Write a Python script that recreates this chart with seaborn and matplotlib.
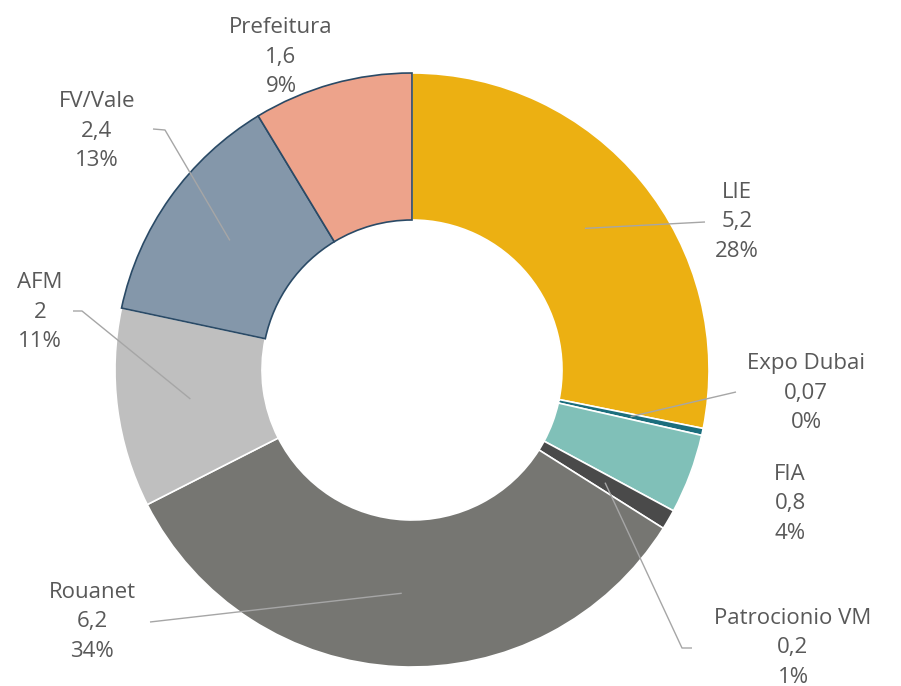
import numpy as np
import matplotlib
matplotlib.use("Agg")
import matplotlib.pyplot as plt
import seaborn as sns

# ---- data ----
categories = ["LIE", "Expo Dubai", "FIA", "Patrocionio VM", "Rouanet", "AFM", "FV/Vale", "Prefeitura"]
values = [5.2, 0.07, 0.8, 0.2, 6.2, 2, 2.4, 1.6]

# ---- style ----
colors = ["#ECB012", "#1B6E7D", "#80C0B8", "#4A4A4A", "#767672", "#BFBFBF", "#8497AA", "#EDA38B"]
edgecolors = ["white", "white", "white", "white", "white", "white", "#2A4A66", "#2A4A66"]

sns.set_theme(style="white")
plt.rcParams["font.family"] = ["Open Sans", "DejaVu Sans"]

W, H = 901, 686
fig = plt.figure(figsize=(W / 100, H / 100), dpi=100)
ax = fig.add_axes([0, 0, 1, 1])

def py(y):
    return H - y

cx, cy = 412, 370
R_out, R_in = 297, 150

wedges, _ = ax.pie(values, colors=colors, startangle=90, counterclock=False,
                   center=(cx, py(cy)), radius=R_out,
                   wedgeprops=dict(width=R_out - R_in, linewidth=1.2))
for w, ec in zip(wedges, edgecolors):
    w.set_edgecolor(ec)
    if ec != "white":
        w.set_zorder(3)

ax.set_xlim(0, W)
ax.set_ylim(0, H)
ax.set_aspect("auto")
ax.axis("off")

total = sum(values)

# label positions (pixel layout) and leader elbow points
label_pos = {
    "LIE": (737, 222),
    "Expo Dubai": (806, 393),
    "FIA": (790, 504),
    "Patrocionio VM": (793, 648),
    "Rouanet": (92, 622),
    "AFM": (40, 312),
    "FV/Vale": (97, 131),
    "Prefeitura": (281, 57),
}
leader_ends = {
    "LIE": [(705, 222)],
    "Expo Dubai": [(736, 392)],
    "Patrocionio VM": [(682, 648), (692, 648)],
    "Rouanet": [(150, 622)],
    "AFM": [(82, 311), (73, 311)],
    "FV/Vale": [(165, 130), (153, 129)],
}

text_color = "#595959"
r_mid = (R_out + R_in) / 2
cum = 0.0
for w, cat, v in zip(wedges, categories, values):
    mid_frac = (cum + v / 2) / total
    cum += v
    ang = np.deg2rad(90 - 360 * mid_frac)
    sx = cx + r_mid * np.cos(ang)
    sy = cy - r_mid * np.sin(ang)
    if cat in leader_ends:
        pts = [(sx, sy)] + leader_ends[cat]
        xs = [p[0] for p in pts]
        ys = [py(p[1]) for p in pts]
        ax.plot(xs, ys, color="#A6A6A6", linewidth=1.0, zorder=4,
                solid_capstyle="butt")
    vtxt = f"{v:g}".replace(".", ",")
    ptxt = f"{round(v / total * 100):.0f}%"
    lx, ly = label_pos[cat]
    ax.text(lx, py(ly), f"{cat}\n{vtxt}\n{ptxt}", ha="center", va="center",
            multialignment="center", fontsize=16, linespacing=1.52,
            color=text_color, zorder=5)

fig.savefig("out.png", dpi=100)
